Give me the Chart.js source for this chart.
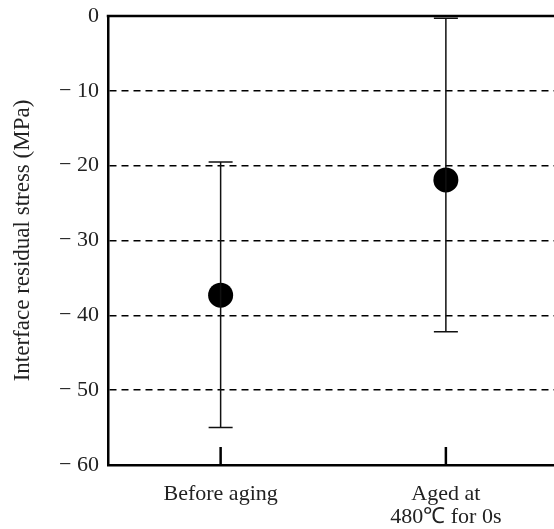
<!DOCTYPE html>
<html>
<head>
<meta charset="utf-8">
<script src="https://cdn.jsdelivr.net/npm/chart.js@4.4.1/dist/chart.umd.min.js"></script>
<style>
  html, body { margin: 0; padding: 0; background: #fff; overflow: hidden; }
  #wrap { width: 554px; height: 529px; position: relative; }
  canvas { display: block; }
</style>
</head>
<body>
<div id="wrap"><canvas id="stressChart"></canvas></div>
<script>
// data
const categories = [["Before aging"], ["Aged at", "480\u2103 for 0s"]];
const meanStress = [-37.3, -21.9];
const upperStress = [-19.5, -0.3];
const lowerStress = [-55.0, -42.2];
const yTicks = [0, -10, -20, -30, -40, -50, -60];

const FONT = "'Liberation Serif', 'Times New Roman', serif";

// error bars, top frame line and inward category ticks, drawn from the scales
const errorBars = {
  id: "errorBars",
  afterDatasetsDraw(chart) {
    const { ctx, chartArea, scales: { x, y } } = chart;
    ctx.save();
    ctx.strokeStyle = "#111";
    ctx.lineWidth = 1.5;
    meanStress.forEach((m, i) => {
      const px = x.getPixelForValue(i);
      const top = y.getPixelForValue(upperStress[i]);
      const bot = y.getPixelForValue(lowerStress[i]);
      ctx.beginPath();
      ctx.moveTo(px, top); ctx.lineTo(px, bot);
      ctx.moveTo(px - 12, top); ctx.lineTo(px + 12, top);
      ctx.moveTo(px - 12, bot); ctx.lineTo(px + 12, bot);
      ctx.stroke();
    });
    ctx.lineWidth = 2.5;
    ctx.strokeStyle = "#000";
    // top frame
    const yTop = y.getPixelForValue(0);
    ctx.beginPath();
    ctx.moveTo(chartArea.left - 1.25, yTop); ctx.lineTo(chartArea.right, yTop);
    ctx.stroke();
    // short ticks standing up from the bottom axis
    const base = y.getPixelForValue(-60);
    categories.forEach((c, i) => {
      const px = x.getPixelForValue(i);
      ctx.beginPath();
      ctx.moveTo(px, base); ctx.lineTo(px, base - 18);
      ctx.stroke();
    });
    ctx.restore();
  }
};

new Chart(document.getElementById("stressChart"), {
  type: "scatter",
  data: {
    datasets: [{
      data: meanStress.map((v, i) => ({ x: i, y: v })),
      pointRadius: 12.5,
      pointHoverRadius: 12.5,
      backgroundColor: "#000",
      borderColor: "#000",
      borderWidth: 0,
      clip: false
    }]
  },
  options: {
    responsive: true,
    maintainAspectRatio: false,
    animation: false,
    layout: { autoPadding: false, padding: { top: 16, right: 0, left: 0, bottom: 0 } },
    plugins: { legend: { display: false }, tooltip: { enabled: false } },
    scales: {
      x: {
        type: "linear",
        min: -0.5,
        max: 1.48,
        afterBuildTicks: s => { s.ticks = categories.map((c, i) => ({ value: i })); },
        afterFit: s => { s.height = 64; s.paddingLeft = 0; s.paddingRight = 0; },
        grid: { display: false, drawTicks: false },
        border: { display: true, color: "#000", width: 2.5 },
        ticks: {
          padding: 17,
          color: "#222",
          font: { family: FONT, size: 22, lineHeight: 1.08 },
          maxRotation: 0,
          autoSkip: false,
          callback: v => categories[v]
        }
      },
      y: {
        min: -60,
        max: 0,
        afterBuildTicks: s => { s.ticks = yTicks.map(v => ({ value: v })); },
        afterFit: s => { s.width = 108; s.paddingTop = 0; s.paddingBottom = 0; },
        grid: {
          drawTicks: false,
          color: ctx => (ctx.tick && (ctx.tick.value === 0 || ctx.tick.value === -60)) ? "rgba(0,0,0,0)" : "#000",
          lineWidth: 1.5
        },
        border: { display: true, color: "#000", width: 2.5, dash: [7, 5] },
        ticks: {
          padding: 9,
          color: "#222",
          font: { family: FONT, size: 22 },
          callback: v => v === 0 ? "0" : "\u2212 " + Math.abs(v)
        },
        title: {
          display: true,
          text: "Interface residual stress (MPa)",
          color: "#222",
          font: { family: FONT, size: 23 },
          padding: { top: 9, bottom: 0 }
        }
      }
    }
  },
  plugins: [errorBars]
});
</script>
</body>
</html>
